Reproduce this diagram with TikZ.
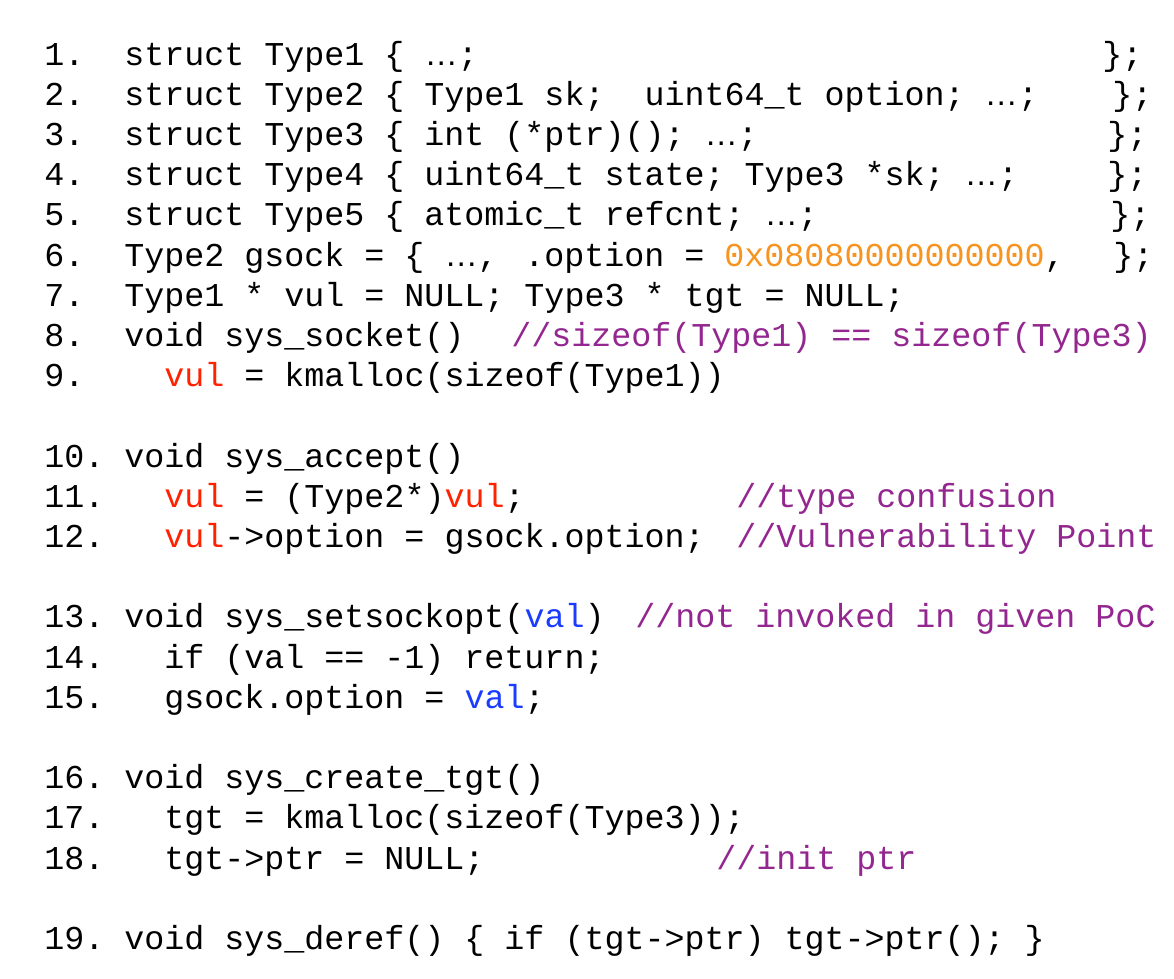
\documentclass[tikz,border=0pt]{standalone}
\usepackage{fontspec}
\setmonofont{Liberation Mono}
\newfontfamily\dotsfont{Liberation Sans}
\usetikzlibrary{positioning}

\definecolor{cmtpurple}{HTML}{93278F}
\definecolor{hexorange}{HTML}{F7931E}
\definecolor{vulred}{HTML}{FF2200}
\definecolor{valblue}{HTML}{1A3CFF}
\newcommand{\ddd}{{\dotsfont …}}
\newcommand{\redvul}{\textcolor{vulred}{vul}}
\newcommand{\blueval}{\textcolor{valblue}{val}}

\begin{document}
\begin{tikzpicture}[x=10pt,y=-20.1pt,
    code/.style={anchor=base west,inner sep=0pt,font=\fontsize{16.67}{20}\selectfont\ttfamily},
    cmt/.style={code,text=cmtpurple}]
  \useasboundingbox (0,0) rectangle (58.7,24.353);
  % structs
  \node[code] (l1) at (2.2,1.617) {1.~~struct Type1 \{ \ddd;};
  \node[code] (l2) at (2.2,2.617) {2.~~struct Type2 \{ Type1 sk;~~uint64\_t option; \ddd;};
  \node[code] (l3) at (2.2,3.617) {3.~~struct Type3 \{ int (*ptr)(); \ddd;};
  \node[code] (l4) at (2.2,4.617) {4.~~struct Type4 \{ uint64\_t state; Type3 *sk; \ddd;};
  \node[code] (l5) at (2.2,5.617) {5.~~struct Type5 \{ atomic\_t refcnt; \ddd;};
  \node[code] (l6) at (2.2,6.617) {6.~~Type2 gsock = \{ \ddd,};
  \node[code] (l6b) at (26.2,6.617) {.option = \textcolor{hexorange}{0x08080000000000},};
  \node[code] (e1) at (55.1,1.617) {\};};
  \node[code] (e2) at (55.6,2.617) {\};};
  \node[code] (e3) at (55.35,3.617) {\};};
  \node[code] (e4) at (55.35,4.617) {\};};
  \node[code] (e5) at (55.5,5.617) {\};};
  \node[code] (e6) at (55.65,6.617) {\};};
  \node[code] (l7) at (2.2,7.617) {7.~~Type1 * vul = NULL; Type3 * tgt = NULL;};
  % sys_socket
  \node[code] (l8) at (2.2,8.617) {8.~~void sys\_socket()};
  \node[cmt] (c8) at (25.55,8.617) {//sizeof(Type1) == sizeof(Type3)};
  \node[code] (l9) at (2.2,9.617) {9.~~~~\redvul{} = kmalloc(sizeof(Type1))};
  % sys_accept
  \node[code] (l10) at (2.2,11.617) {10.~void sys\_accept()};
  \node[code] (l11) at (2.2,12.617) {11.~~~\redvul{} = (Type2*)\redvul;};
  \node[cmt] (c11) at (36.8,12.617) {//type confusion};
  \node[code] (l12) at (2.2,13.617) {12.~~~\redvul->option = gsock.option;};
  \node[cmt] (c12) at (36.8,13.617) {//Vulnerability Point};
  % sys_setsockopt
  \node[code] (l13) at (2.2,15.617) {13.~void sys\_setsockopt(\blueval)};
  \node[cmt] (c13) at (31.75,15.617) {//not invoked in given PoC};
  \node[code] (l14) at (2.2,16.617) {14.~~~if (val == -1) return;};
  \node[code] (l15) at (2.2,17.617) {15.~~~gsock.option = \blueval;};
  % sys_create_tgt
  \node[code] (l16) at (2.2,19.617) {16.~void sys\_create\_tgt()};
  \node[code] (l17) at (2.2,20.617) {17.~~~tgt = kmalloc(sizeof(Type3));};
  \node[code] (l18) at (2.2,21.617) {18.~~~tgt->ptr = NULL;};
  \node[cmt] (c18) at (35.8,21.617) {//init ptr};
  % sys_deref
  \node[code] (l19) at (2.2,23.617) {19.~void sys\_deref() \{ if (tgt->ptr) tgt->ptr(); \}};
\end{tikzpicture}
\end{document}
